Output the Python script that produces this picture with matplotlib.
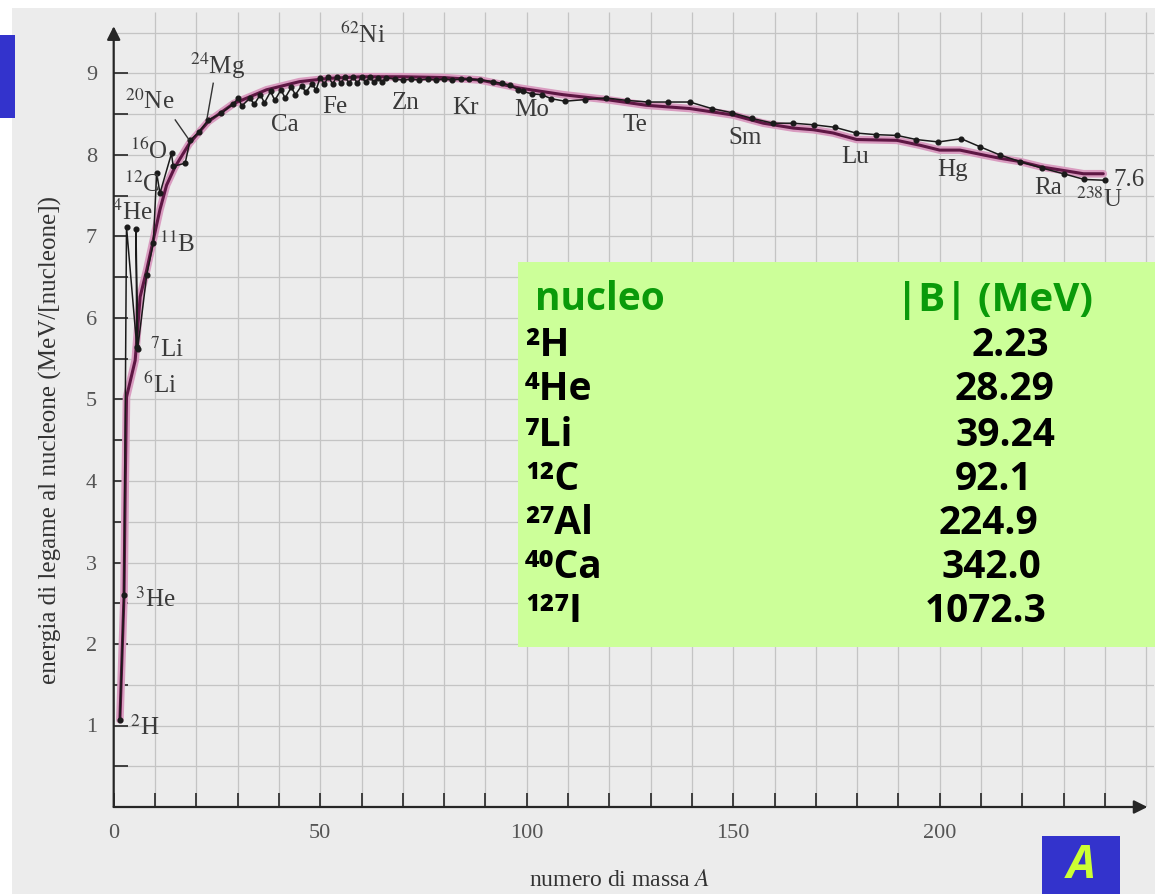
import matplotlib
matplotlib.use("Agg")
import matplotlib.pyplot as plt
from matplotlib.patches import Rectangle

# ---------------- data ----------------
fit_mass = [1.5, 2.5, 2.8, 3.1, 5.2, 6.4, 8.0, 9.6, 11.2, 12.8, 14.8, 18.3, 22.9, 29.0,
            37.0, 45.0, 52.0, 60.0, 70.0, 80.0, 88.7, 98.4, 108.8, 119.3, 129.0, 139.5,
            150.0, 157.3, 164.6, 169.4, 174.2, 179.9, 189.6, 195.2, 200.0, 204.9, 210.6,
            214.6, 219.4, 225.0, 230.0, 234.8, 239.6]
fit_energy = [1.07, 2.60, 4.00, 5.03, 5.48, 6.26, 6.59, 6.96, 7.33, 7.63, 7.85, 8.14, 8.41,
              8.63, 8.80, 8.90, 8.94, 8.96, 8.96, 8.95, 8.92, 8.82, 8.74, 8.68, 8.61, 8.57,
              8.49, 8.39, 8.33, 8.31, 8.27, 8.19, 8.18, 8.12, 8.06, 8.06, 8.00, 7.96, 7.92,
              7.85, 7.81, 7.77, 7.77]

exp_mass_light = [1.5, 2.5, 3.1, 5.6, 5.4, 5.8, 8.0, 9.6, 10.4, 11.2, 14.0, 14.4, 17.3,
                  18.5, 20.6, 22.9, 26.0, 29.0, 30.2, 31.0]
exp_energy_light = [1.07, 2.60, 7.12, 5.64, 7.09, 5.62, 6.53, 6.92, 7.78, 7.53, 8.02, 7.86,
                    7.90, 8.18, 8.28, 8.43, 8.51, 8.63, 8.70, 8.60]
exp_mass_ca = [33.0, 34.0, 35.5, 36.5, 38.0, 39.0, 40.5, 41.5, 43.0, 44.0, 45.5, 46.5, 48.0, 49.0]
exp_energy_ca = [8.70, 8.62, 8.74, 8.64, 8.78, 8.67, 8.80, 8.70, 8.83, 8.74, 8.85, 8.77, 8.87, 8.80]
exp_mass_fe = [50, 51, 52, 53, 54, 55, 56, 57, 58, 59, 60, 61, 62, 63, 64, 65, 66]
exp_energy_fe = [8.95, 8.87, 8.96, 8.87, 8.96, 8.88, 8.96, 8.88, 8.96, 8.88, 8.96, 8.89,
                 8.96, 8.89, 8.95, 8.90, 8.95]
exp_mass_kr = [68, 70, 72, 74, 76, 78, 80, 82, 84, 86]
exp_energy_kr = [8.93, 8.92, 8.93, 8.92, 8.93, 8.92, 8.93, 8.92, 8.93, 8.93]
exp_mass_heavy = [88.7, 91.9, 93.9, 96.0, 97.9, 99.2, 101.2, 103.6, 106.0, 109.3, 114.1,
                  119.3, 124.2, 129.4, 134.3, 139.5, 144.8, 149.6, 154.5, 159.7, 164.6,
                  169.6, 174.6, 179.7, 184.5, 189.7, 194.3, 199.7, 205.2, 209.8, 214.6,
                  219.4, 224.7, 230.0, 235.0, 240.0]
exp_energy_heavy = [8.92, 8.90, 8.88, 8.86, 8.80, 8.78, 8.75, 8.74, 8.69, 8.66, 8.68, 8.70,
                    8.67, 8.65, 8.65, 8.65, 8.57, 8.52, 8.45, 8.39, 8.39, 8.37, 8.34, 8.27,
                    8.25, 8.24, 8.19, 8.16, 8.20, 8.10, 8.00, 7.92, 7.84, 7.77, 7.70, 7.69]

x_major_ticks = [0, 50, 100, 150, 200]
y_major_ticks = [1, 2, 3, 4, 5, 6, 7, 8, 9]

element_labels = ["$^{62}$Ni", "$^{24}$Mg", "$^{20}$Ne", "$^{16}$O", "$^{12}$C", "$^{4}$He",
                  "$^{11}$B", "$^{7}$Li", "$^{6}$Li", "$^{3}$He", "$^{2}$H", "Ca", "Fe", "Zn",
                  "Kr", "Mo", "Te", "Sm", "Lu", "Hg", "Ra", "$^{238}$U", "7.6"]
label_mass = [60.3, 25.2, 8.6, 8.5, 6.8, 4.6, 15.5, 12.8, 11.2, 10.0, 7.6, 41.5, 53.6, 70.6,
              85.1, 101.3, 126.2, 152.9, 179.5, 203.0, 226.2, 238.6, 245.8]
label_energy = [9.47, 9.10, 8.66, 8.05, 7.64, 7.30, 6.90, 5.62, 5.18, 2.55, 0.98, 8.37, 8.59,
                8.64, 8.58, 8.55, 8.37, 8.21, 7.98, 7.82, 7.60, 7.45, 7.69]

table_nuclei = ["²H", "⁴He", "⁷Li", "¹²C", "²⁷Al", "⁴⁰Ca", "¹²⁷I"]
table_binding = ["2.23", "28.29", "39.24", "92.1", "224.9", "342.0", "1072.3"]

# ---------------- layout ----------------
W, H = 1155, 894
PX_X0, PX_PER_A = 113.7, 4.13
PX_Y0, PX_PER_E = 807.0, 81.5
XMAX, YMAX = 252.0, 9.75

plt.rcParams['mathtext.fontset'] = 'stix'
SERIF = ['Liberation Serif', 'DejaVu Serif']

fig = plt.figure(figsize=(W / 100, H / 100), dpi=100)
fig.patch.set_facecolor('white')


def fx(px):
    return px / W


def fy(py):
    return 1 - py / H


# scanned page background
fig.add_artist(Rectangle((fx(12), 0), 1 - fx(12), fy(8), transform=fig.transFigure,
                         facecolor='#ececec', edgecolor='none', zorder=-5))

ax = fig.add_axes([PX_X0 / W, (H - PX_Y0) / H, XMAX * PX_PER_A / W, YMAX * PX_PER_E / H])
ax.set_xlim(0, XMAX)
ax.set_ylim(0, YMAX)
ax.patch.set_alpha(0)
for s in ax.spines.values():
    s.set_visible(False)

# grid paper
grid_c = '#c4c4c4'
ax.vlines(range(10, 251, 10), 0, YMAX, colors=grid_c, lw=0.9, zorder=0)
ax.hlines([v * 0.5 for v in range(1, 20)], 0, XMAX, colors=grid_c, lw=0.9, zorder=0)

# axes with arrows
arr = dict(arrowstyle='-|>', color='#262626', lw=1.6, mutation_scale=20, shrinkA=0, shrinkB=0)
ax.annotate('', xy=(250.3, 0), xytext=(0, 0), arrowprops=arr, annotation_clip=False)
ax.annotate('', xy=(0, 9.58), xytext=(0, 0), arrowprops=arr, annotation_clip=False)

ax.set_xticks(x_major_ticks)
ax.set_xticks(range(0, 241, 10), minor=True)
ax.set_yticks(y_major_ticks)
ax.set_yticks([v * 0.5 for v in range(1, 19)], minor=True)
ax.tick_params(which='both', direction='in', length=10, width=1.3, color='#333333')
ax.tick_params(axis='x', which='major', pad=12)
ax.tick_params(axis='y', which='major', pad=12)
for lab in ax.get_xticklabels() + ax.get_yticklabels():
    lab.set_family(SERIF)
    lab.set_fontsize(16)
    lab.set_color('#555555')

# curves
ax.plot(fit_mass, fit_energy, color='#d99cc0', lw=5.5, solid_capstyle='round', zorder=3)
ax.plot(fit_mass, fit_energy, color='#5e1744', lw=2.2, solid_capstyle='round', zorder=4)
exp_mass_all = exp_mass_light + exp_mass_ca + exp_mass_fe + exp_mass_kr + exp_mass_heavy
exp_energy_all = exp_energy_light + exp_energy_ca + exp_energy_fe + exp_energy_kr + exp_energy_heavy
ax.plot(exp_mass_all, exp_energy_all, color='#1a1a1a', lw=1.1, marker='o', ms=3.4,
        mec='#1a1a1a', mfc='#1a1a1a', zorder=5)

# leader lines for Ne and Mg
ax.plot([14.9, 18.2], [8.43, 8.19], color='#333333', lw=1.0, zorder=5)
ax.plot([24.1, 22.6], [8.88, 8.45], color='#333333', lw=1.0, zorder=5)

for txt, a, e in zip(element_labels, label_mass, label_energy):
    ax.text(a, e, txt, ha='center', va='center', fontsize=18, family=SERIF,
            color='#3a3a3a', zorder=6)

# axis titles
fig.text(fx(620), fy(880), 'numero di massa $A$', ha='center', va='center',
         fontsize=17, family=SERIF, color='#333333')
fig.text(fx(50), fy(440), 'energia di legame al nucleone (MeV/[nucleone])', ha='center',
         va='center', rotation=90, fontsize=18, family=SERIF, color='#333333')

# table overlay
fig.add_artist(Rectangle((fx(518), fy(647)), fx(1155) - fx(518), fy(262) - fy(647),
                         transform=fig.transFigure, facecolor='#ccff99', edgecolor='none',
                         zorder=8))
TF = ['Open Sans', 'DejaVu Sans']
fig.text(fx(535), fy(300), 'nucleo', ha='left', va='center', fontsize=28, weight='bold',
         family=TF, color='#0a9a0a', zorder=9)
fig.text(fx(994), fy(300), '|B| (MeV)', ha='center', va='center', fontsize=29,
         weight='bold', family=TF, color='#0a9a0a', zorder=9)
row_y = [345, 390, 435, 479, 524, 568, 612]
val_x = [1010, 1005, 1005, 994, 988, 991, 986]
for nuc, val, yy, xx in zip(table_nuclei, table_binding, row_y, val_x):
    fig.text(fx(525), fy(yy), nuc, ha='left', va='center', fontsize=28, weight='bold',
             family=TF, color='black', zorder=9)
    fig.text(fx(xx), fy(yy), val, ha='center', va='center', fontsize=28, weight='bold',
             family=TF, color='black', zorder=9)

# blue slide decorations
fig.add_artist(Rectangle((0, fy(118)), fx(15), fy(35) - fy(118), transform=fig.transFigure,
                         facecolor='#3333cc', edgecolor='none', zorder=8))
fig.add_artist(Rectangle((fx(1042), 0), fx(1120) - fx(1042), fy(836),
                         transform=fig.transFigure, facecolor='#3333cc', edgecolor='none',
                         zorder=8))
fig.text(fx(1081), fy(866), 'A', ha='center', va='center', fontsize=33, weight='bold',
         style='italic', family=TF, color='#ccff33', zorder=9)

fig.savefig('out.png', dpi=100)
